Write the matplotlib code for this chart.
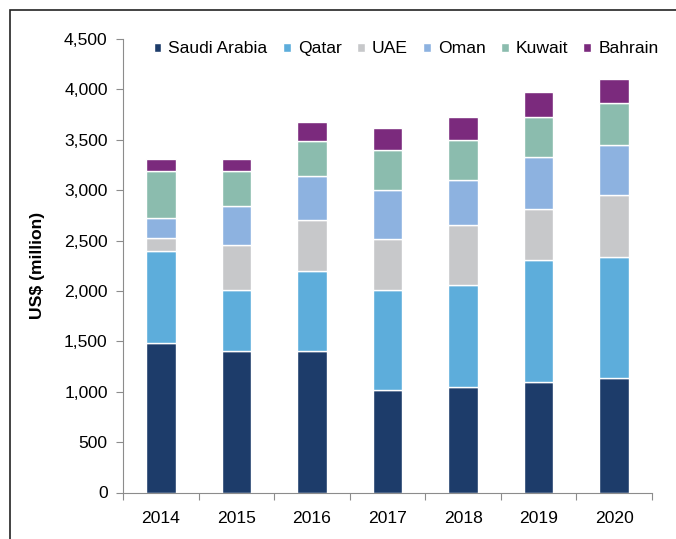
import matplotlib
matplotlib.use("Agg")
import matplotlib.pyplot as plt
import numpy as np
from matplotlib.patches import Rectangle

plt.rcParams['font.family'] = ['Liberation Sans', 'DejaVu Sans']

years = ["2014", "2015", "2016", "2017", "2018", "2019", "2020"]
saudi = [1480, 1400, 1400, 1020, 1050, 1100, 1140]
qatar = [920, 610, 800, 990, 1010, 1210, 1200]
uae = [130, 450, 500, 510, 590, 500, 610]
oman = [190, 380, 440, 480, 450, 520, 500]
kuwait = [470, 350, 350, 400, 400, 400, 410]
bahrain = [120, 120, 190, 220, 230, 240, 240]

series = [("Saudi Arabia", saudi, "#1D3C6A"),
          ("Qatar", qatar, "#5DADDB"),
          ("UAE", uae, "#C7C8CA"),
          ("Oman", oman, "#8DB2E0"),
          ("Kuwait", kuwait, "#8BBCAE"),
          ("Bahrain", bahrain, "#7B2A7D")]

fig = plt.figure(figsize=(6.76, 5.39), dpi=100)
# outer border (cropped at right and bottom)
fig.patches.append(Rectangle((10/676, -0.2), 1.2, 1.2 - 10/539, transform=fig.transFigure,
                             fill=False, edgecolor="#222222", linewidth=1.2))

ax = fig.add_axes([123/676, 1 - 492.5/539, (652-123)/676, (492.5-39)/539])
x = np.arange(len(years))
bottom = np.zeros(len(years))
handles = []
for name, vals, col in series:
    b = ax.bar(x, vals, width=0.39, bottom=bottom, color=col, edgecolor="white",
               linewidth=1.0, label=name)
    handles.append(b)
    bottom += np.array(vals)

fs = 12.6
ax.set_xlim(-0.5, len(years) - 0.5)
ax.set_ylim(0, 4500)
ax.set_yticks(np.arange(0, 4501, 500))
ax.set_yticklabels([f"{v:,}" for v in range(0, 4501, 500)], fontsize=fs)
ax.set_xticks(np.arange(-0.5, len(years), 1.0))
ax.set_xticklabels([])
ax.set_xticks(x, minor=True)
ax.set_xticklabels(years, minor=True, fontsize=fs)
ax.tick_params(axis='x', which='major', length=5, color="#8C8C8C", direction='out')
ax.tick_params(axis='x', which='minor', length=0, pad=13)
ax.tick_params(axis='y', length=5, color="#8C8C8C", pad=6)
for s in ["top", "right"]:
    ax.spines[s].set_visible(False)
ax.spines["left"].set_color("#8C8C8C")
ax.spines["bottom"].set_color("#8C8C8C")
ax.set_ylabel("US$ (million)", fontsize=fs, fontweight="bold", labelpad=14)

leg = ax.legend(handles=handles, loc="upper center", bbox_to_anchor=(0.535, 1.01),
                ncol=6, frameon=False, fontsize=fs, handlelength=0.45, handleheight=0.45,
                handletextpad=0.4, columnspacing=0.87, borderaxespad=0)

fig.savefig("out.png", dpi=100)
